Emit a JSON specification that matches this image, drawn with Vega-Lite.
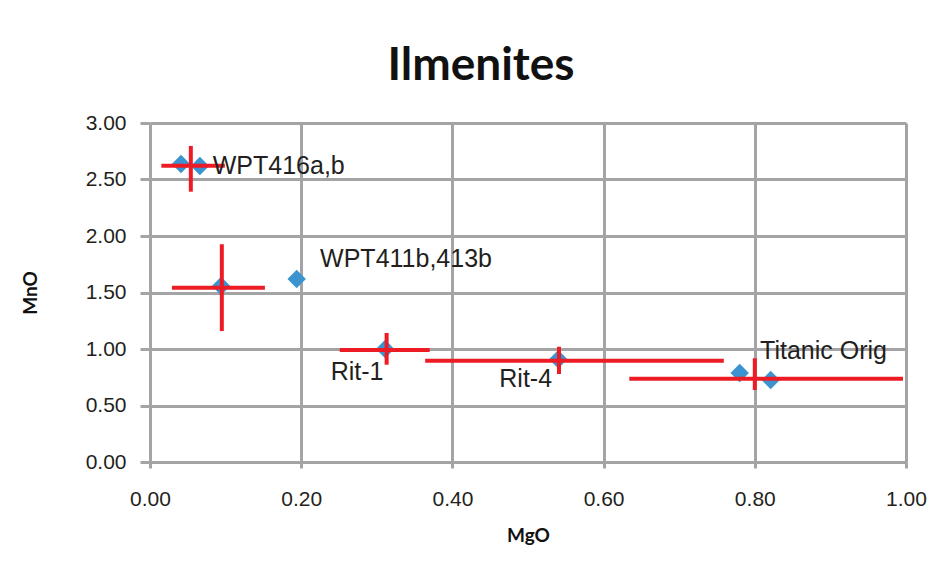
{
  "$schema": "https://vega.github.io/schema/vega-lite/v6.json",
  "autosize": {"type": "none"},
  "width": 756,
  "height": 339,
  "padding": {"left": 150, "top": 123, "right": 45, "bottom": 117},
  "background": "white",
  "title": {
    "text": "Ilmenites",
    "font": "Lato",
    "fontWeight": "bold",
    "fontSize": 46,
    "color": "#111111",
    "anchor": "middle",
    "dx": -47,
    "baseline": "alphabetic",
    "offset": -14
  },
  "config": {
    "view": {"stroke": null},
    "axis": {
      "grid": true,
      "gridColor": "#a4a4a6",
      "gridWidth": 3,
      "domainColor": "#a4a4a6",
      "domainWidth": 3,
      "tickColor": "#a4a4a6",
      "tickWidth": 3,
      "labelFont": "Liberation Sans",
      "labelFontSize": 21,
      "labelColor": "#231f20",
      "labelFlush": false,
      "labelOverlap": false,
      "titleFont": "Lato",
      "titleFontWeight": "bold",
      "titleFontSize": 19,
      "titleColor": "#111111"
    }
  },
  "datasets": {
    "points": [
      {"MgO": 0.041, "MnO": 2.637},
      {"MgO": 0.066, "MnO": 2.62},
      {"MgO": 0.194, "MnO": 1.62},
      {"MgO": 0.094, "MnO": 1.557},
      {"MgO": 0.311, "MnO": 1.0},
      {"MgO": 0.54, "MnO": 0.91},
      {"MgO": 0.78, "MnO": 0.788},
      {"MgO": 0.821, "MnO": 0.726}
    ],
    "errors": [
      {"MgO": 0.054, "MnO": 2.622, "MgO_lo": 0.015, "MgO_hi": 0.099, "MnO_lo": 2.392, "MnO_hi": 2.797},
      {"MgO": 0.095, "MnO": 1.542, "MgO_lo": 0.029, "MgO_hi": 0.152, "MnO_lo": 1.159, "MnO_hi": 1.927},
      {"MgO": 0.313, "MnO": 0.991, "MgO_lo": 0.251, "MgO_hi": 0.370, "MnO_lo": 0.861, "MnO_hi": 1.142},
      {"MgO": 0.541, "MnO": 0.896, "MgO_lo": 0.364, "MgO_hi": 0.759, "MnO_lo": 0.779, "MnO_hi": 1.02},
      {"MgO": 0.80, "MnO": 0.737, "MgO_lo": 0.634, "MgO_hi": 0.996, "MnO_lo": 0.637, "MnO_hi": 0.918}
    ],
    "labels": [
      {"MgO": 0.083, "MnO": 2.62, "label": "WPT416a,b"},
      {"MgO": 0.225, "MnO": 1.80, "label": "WPT411b,413b"},
      {"MgO": 0.239, "MnO": 0.80, "label": "Rit-1"},
      {"MgO": 0.462, "MnO": 0.735, "label": "Rit-4"},
      {"MgO": 0.807, "MnO": 0.98, "label": "Titanic Orig"}
    ]
  },
  "layer": [
    {
      "data": {"name": "points"},
      "mark": {"type": "point", "shape": "diamond", "filled": true, "size": 340, "color": "#3b93cf", "opacity": 1},
      "encoding": {
        "x": {
          "field": "MgO", "type": "quantitative",
          "scale": {"domain": [0, 1], "nice": false, "zero": false},
          "axis": {"values": [0, 0.2, 0.4, 0.6, 0.8, 1.0], "format": ".2f", "tickSize": 6, "labelPadding": 20, "title": "MgO", "titlePadding": 17}
        },
        "y": {
          "field": "MnO", "type": "quantitative",
          "scale": {"domain": [0, 3], "nice": false, "zero": false},
          "axis": {"values": [0, 0.5, 1, 1.5, 2, 2.5, 3], "format": ".2f", "tickSize": 10, "labelPadding": 14, "title": "MnO", "titlePadding": 45}
        }
      }
    },
    {
      "data": {"name": "errors"},
      "mark": {"type": "rule", "color": "#ed1c24", "strokeWidth": 4},
      "encoding": {
        "x": {"field": "MgO_lo", "type": "quantitative"},
        "x2": {"field": "MgO_hi"},
        "y": {"field": "MnO", "type": "quantitative"}
      }
    },
    {
      "data": {"name": "errors"},
      "mark": {"type": "rule", "color": "#ed1c24", "strokeWidth": 4},
      "encoding": {
        "x": {"field": "MgO", "type": "quantitative"},
        "y": {"field": "MnO_lo", "type": "quantitative"},
        "y2": {"field": "MnO_hi"}
      }
    },
    {
      "data": {"name": "labels"},
      "mark": {"type": "text", "align": "left", "baseline": "middle", "font": "Liberation Sans", "fontSize": 25, "color": "#231f20"},
      "encoding": {
        "x": {"field": "MgO", "type": "quantitative"},
        "y": {"field": "MnO", "type": "quantitative"},
        "text": {"field": "label"}
      }
    }
  ]
}
